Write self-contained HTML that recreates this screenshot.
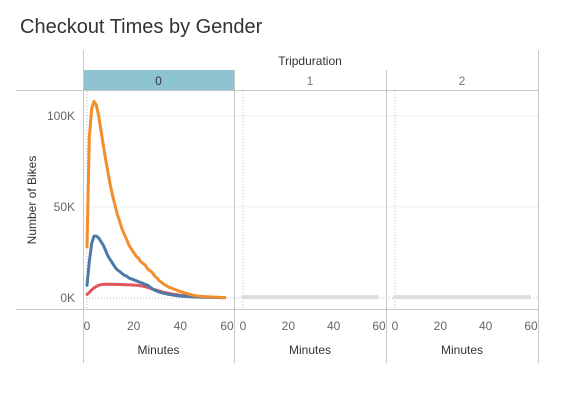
<!DOCTYPE html>
<html><head><meta charset="utf-8"><style>
body{margin:0;background:#fff;width:567px;height:404px;overflow:hidden;font-family:"Liberation Sans",sans-serif}
</style></head><body>
<svg id="chart" width="567" height="404" xmlns="http://www.w3.org/2000/svg" font-family="Liberation Sans, sans-serif">
<text x="20" y="33" font-size="20" fill="#333">Checkout Times by Gender</text>
<text x="310" y="65" font-size="12" fill="#333" text-anchor="middle">Tripduration</text>
<rect x="83" y="70" width="151" height="20" fill="#8ec4d2"/>
<g id="grid"></g>
<g id="frame" stroke="#c8c8c8" stroke-width="1">
<line x1="16" y1="90.5" x2="538" y2="90.5"/>
<line x1="16" y1="309.5" x2="538" y2="309.5"/>
<line x1="83.5" y1="50" x2="83.5" y2="363"/>
<line x1="234.5" y1="70" x2="234.5" y2="363"/>
<line x1="386.5" y1="70" x2="386.5" y2="363"/>
<line x1="538.5" y1="50" x2="538.5" y2="363"/>
</g>
<text transform="translate(36,200) rotate(-90)" font-size="12" fill="#333" text-anchor="middle">Number of Bikes</text>
<g id="marks"></g>
</svg>
<script>
const panels = ["0","1","2"];
const yTicks = [0, 50, 100];
const yTickLabels = ["0K","50K","100K"];
const xTicks = [0, 20, 40, 60];
const orange = [28,88,104,108,106,100,92,84,76,69,62,56,51,46,42,38,35,32,29,27,25,23,22,20,19,18,16,15,14,12,11,9.5,8.5,7.5,6.8,6,5.5,5,4.5,4,3.6,3.2,2.8,2.4,2,1.7,1.4,1.2,1,0.9,0.8,0.7,0.6,0.6,0.5,0.5,0.4,0.4,0.3,0.3];
const blue = [7,20,30,34,34,33,31,29,26,23,21,19,17,15.5,14.5,13.5,12.5,12,11,10.5,10,9.5,9,8.5,8,7.5,7,6,5,4.3,3.8,3.3,2.9,2.6,2.3,2,1.8,1.6,1.4,1.2,1.1,1,0.9,0.8,0.7,0.6,0.6,0.5,0.5,0.5,0.4,0.4,0.4,0.3,0.3,0.3,0.3,0.2,0.2,0.2];
const red = [2,3,4.5,5.5,6.3,7,7.3,7.5,7.6,7.6,7.6,7.5,7.5,7.5,7.4,7.4,7.3,7.3,7.2,7.2,7.1,7,6.9,6.7,6.5,6.2,5.8,5.4,5,4.6,4.2,3.8,3.4,3.1,2.8,2.5,2.3,2.1,1.9,1.7,1.5,1.4,1.2,1.1,1,0.9,0.8,0.7,0.6,0.5,0.5,0.4,0.4,0.4,0.3,0.3,0.3,0.3,0.2,0.2];
const grey1 = [0.5,0.5,0.5,0.5,0.5,0.5,0.5,0.5,0.5,0.5,0.5,0.5,0.5,0.5,0.5,0.5,0.5,0.5,0.5,0.5,0.5,0.5,0.5,0.5,0.5,0.5,0.5,0.5,0.5,0.5,0.5,0.5,0.5,0.5,0.5,0.5,0.5,0.5,0.5,0.5,0.5,0.5,0.5,0.5,0.5,0.5,0.5,0.5,0.5,0.5,0.5,0.5,0.5,0.5,0.5,0.5,0.5,0.5,0.5,0.5];
const grey2 = [0.5,0.5,0.5,0.5,0.5,0.5,0.5,0.5,0.5,0.5,0.5,0.5,0.5,0.5,0.5,0.5,0.5,0.5,0.5,0.5,0.5,0.5,0.5,0.5,0.5,0.5,0.5,0.5,0.5,0.5,0.5,0.5,0.5,0.5,0.5,0.5,0.5,0.5,0.5,0.5,0.5,0.5,0.5,0.5,0.5,0.5,0.5,0.5,0.5,0.5,0.5,0.5,0.5,0.5,0.5,0.5,0.5,0.5,0.5,0.5];

const NS = "http://www.w3.org/2000/svg";
const svg = document.getElementById('chart');
const grid = document.getElementById('grid');
const marks = document.getElementById('marks');
const panelX0 = [87, 243, 395];
const panelX60 = [227, 379, 531];
const panelLeft = [83, 234, 386];
const panelRight = [234, 386, 538];
function y(v){ return 298 - v * 1.82; }
function xf(p, m){ return panelX0[p] + (panelX60[p] - panelX0[p]) * m / 60; }
function mk(tag, attrs, parent){ const e = document.createElementNS(NS, tag); for (const k in attrs) e.setAttribute(k, attrs[k]); parent.appendChild(e); return e; }

// y ticks and gridlines
yTicks.forEach((t, i) => {
  if (t !== 0) {
    const g = mk('line', {x1:83, x2:538, y1:y(t), y2:y(t), stroke:'#ececec', 'stroke-width':1}, grid);
    
    
  } else {
    const g = mk('line', {x1:83, x2:538, y1:y(t), y2:y(t), stroke:'#bbb', 'stroke-width':1, 'stroke-dasharray':'1,2'}, grid);
    
    
  }
  const lbl = mk('text', {x:75, y:y(t)+4, 'font-size':12, fill:'#666', 'text-anchor':'end'}, svg);
  lbl.textContent = yTickLabels[i];
  
  
});

panels.forEach((p, pi) => {
  const vz = mk('line', {x1:xf(pi,0), x2:xf(pi,0), y1:91, y2:309, stroke:'#bbb', 'stroke-width':1, 'stroke-dasharray':'1,2'}, grid);
  
  
  const h = mk('text', {x:(panelLeft[pi]+panelRight[pi])/2, y:85, 'font-size':12, fill: pi===0?'#333':'#777', 'text-anchor':'middle'}, svg);
  h.textContent = p;
  
  
  xTicks.forEach(t => {
    const tl = mk('text', {x:xf(pi,t), y:330, 'font-size':12, fill:'#666', 'text-anchor':'middle'}, svg);
    tl.textContent = t;
    
    
  });
  const xt = mk('text', {x:(panelLeft[pi]+panelRight[pi])/2, y:354, 'font-size':12, fill:'#333', 'text-anchor':'middle'}, svg);
  xt.textContent = 'Minutes';
  
  
});

function drawLine(p, arr, color, name, w){
  const d = arr.map((v, m) => (m ? 'L' : 'M') + xf(p, m).toFixed(1) + ',' + y(v).toFixed(1)).join(' ');
  const path = mk('path', {d:d, fill:'none', stroke:color, 'stroke-width':w, 'stroke-linejoin':'round', 'stroke-linecap':'round'}, marks);
  
  
}
drawLine(1, grey1, '#dcdde1', 'series-panel-1', 4);
drawLine(2, grey2, '#dcdde1', 'series-panel-2', 4);
drawLine(0, red, '#e15759', 'series-red', 3);
drawLine(0, blue, '#4e79a7', 'series-blue', 3);
drawLine(0, orange, '#f28e2b', 'series-orange', 3);
</script>
</body></html>
